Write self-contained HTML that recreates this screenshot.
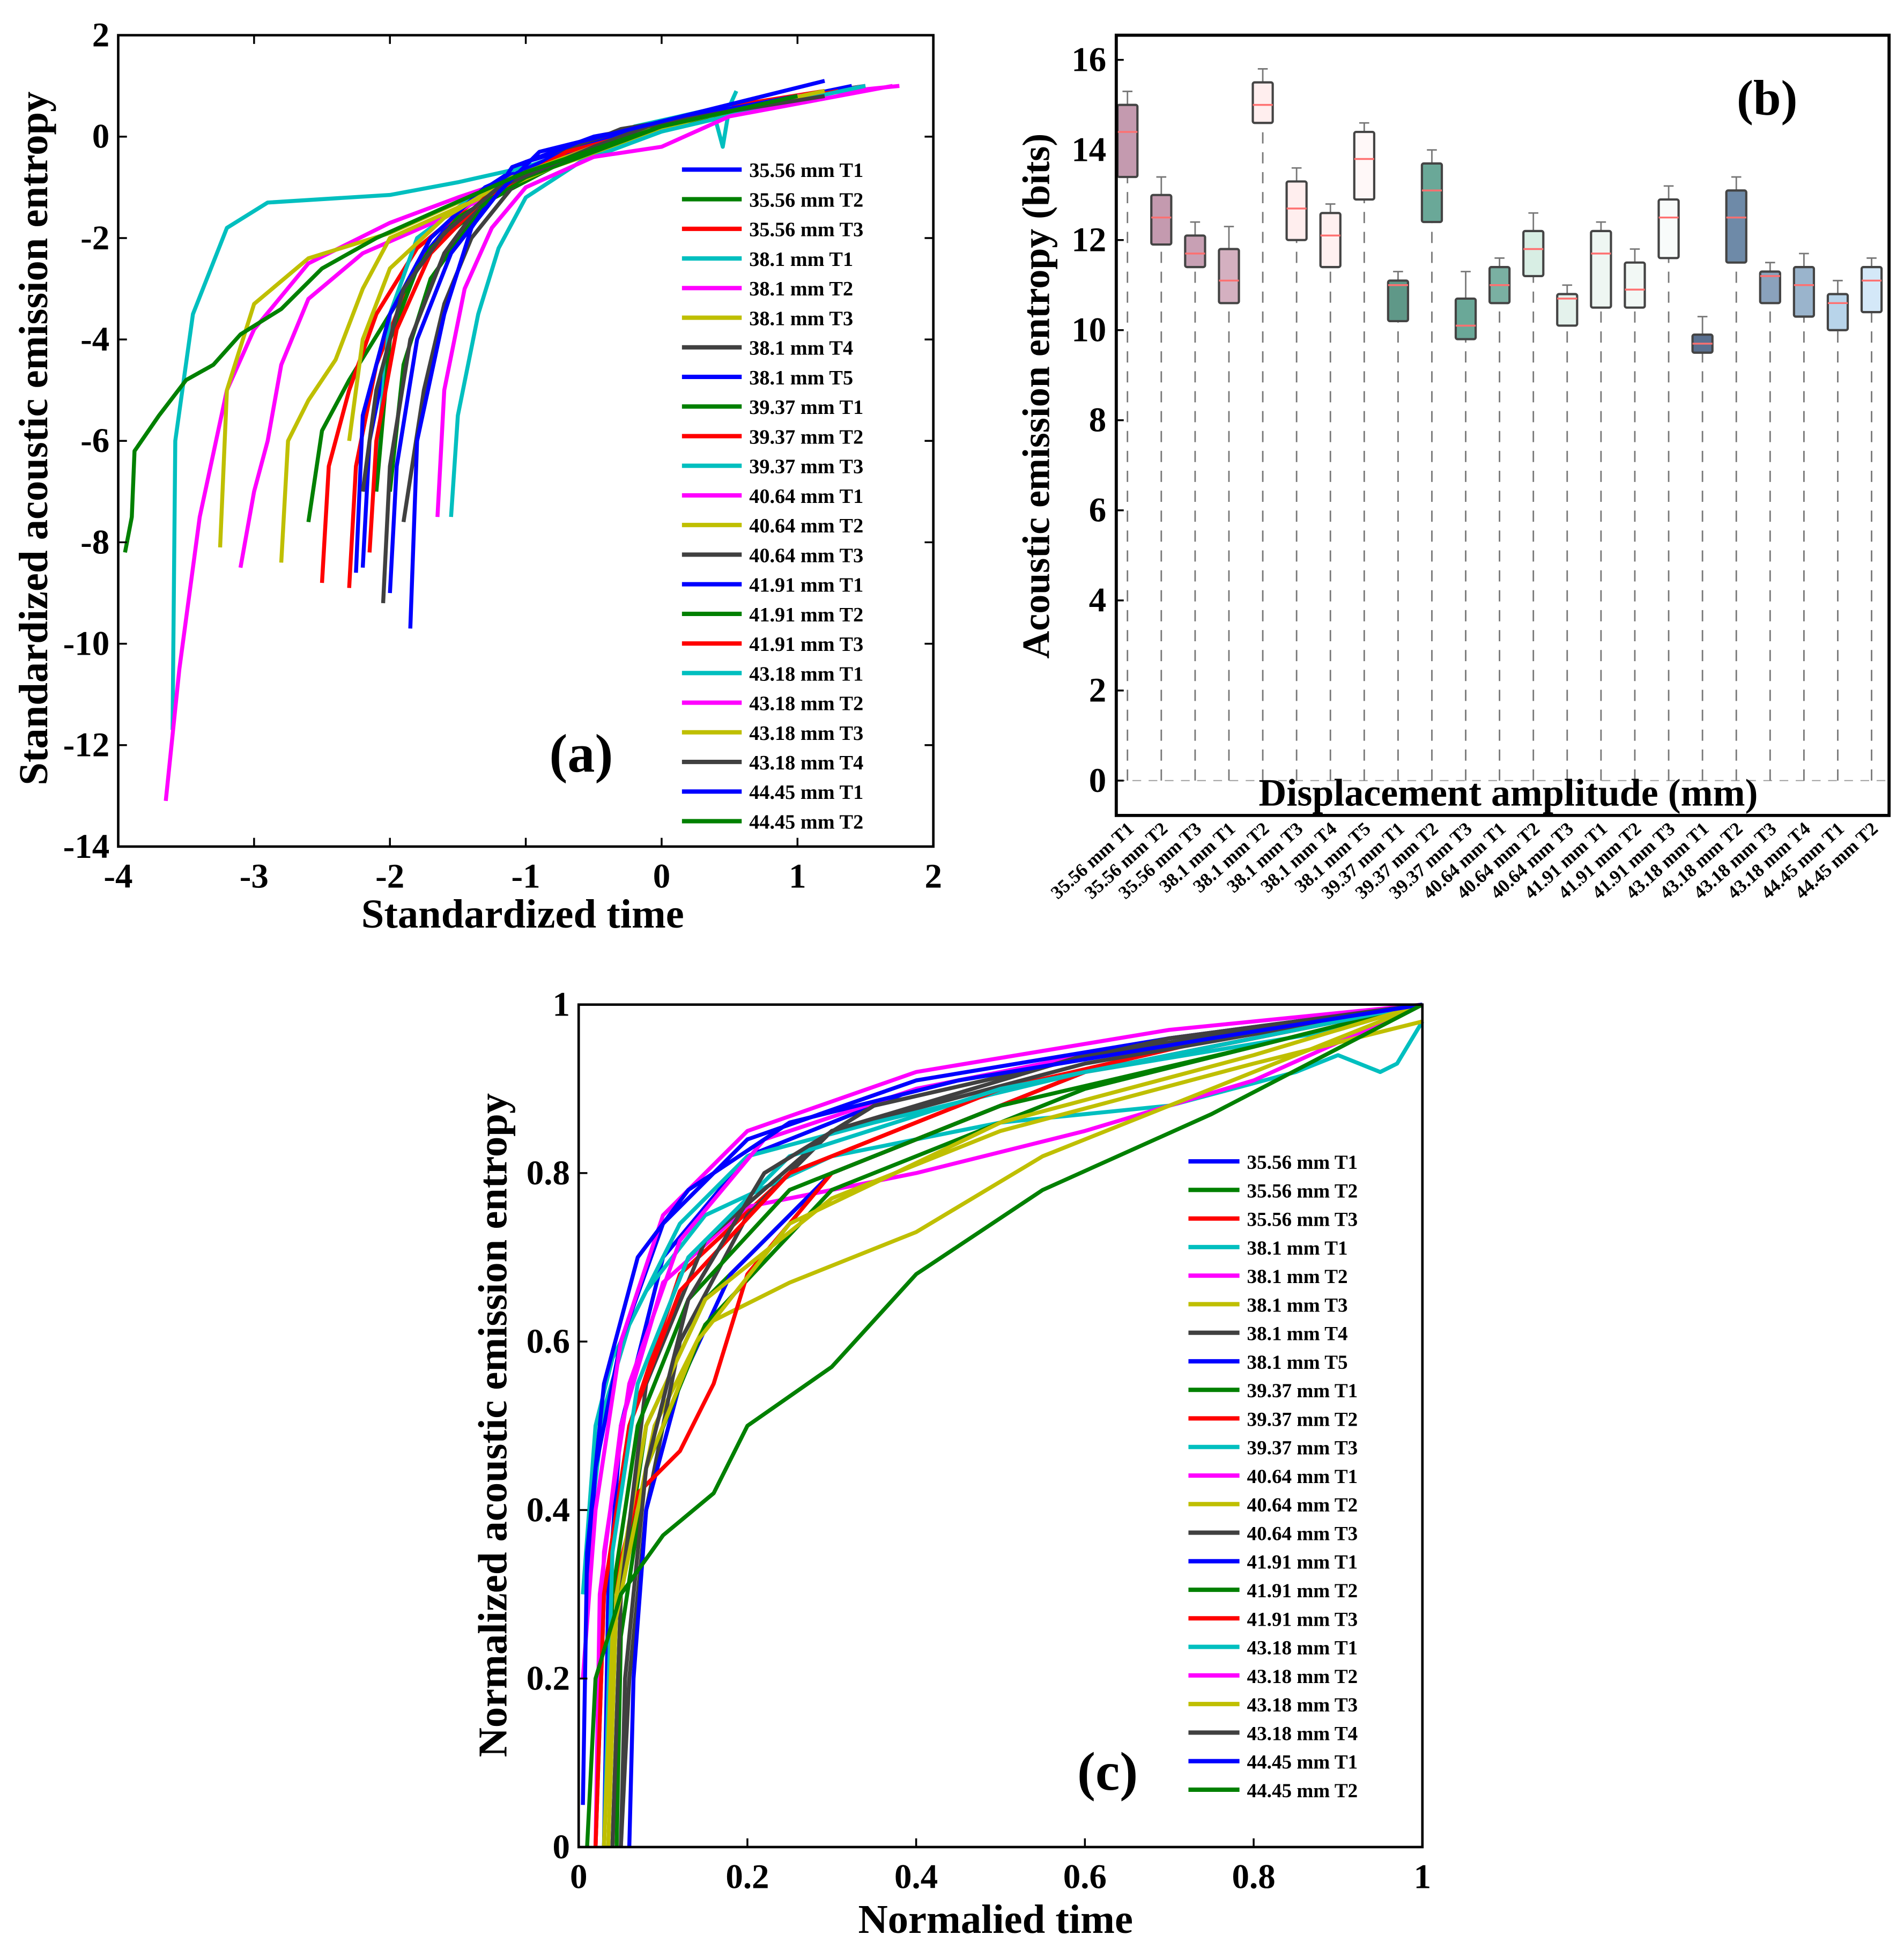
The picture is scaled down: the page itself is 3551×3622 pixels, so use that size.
<!DOCTYPE html>
<html><head><meta charset="utf-8"><style>html,body{margin:0;padding:0;background:#fff}svg{display:block}text{font-family:"Liberation Serif",serif;font-weight:bold;fill:#000}</style></head>
<body>
<svg id="fig" width="3551" height="3622" viewBox="0 0 1530 1560" xmlns="http://www.w3.org/2000/svg">
<rect width="1530" height="1560" fill="#fff"/>
<g id="pa"></g>
<g id="pb"></g>
<g id="pc"></g>
</svg>
<script>
const legendLabels=["35.56 mm T1","35.56 mm T2","35.56 mm T3","38.1 mm T1","38.1 mm T2","38.1 mm T3","38.1 mm T4","38.1 mm T5","39.37 mm T1","39.37 mm T2","39.37 mm T3","40.64 mm T1","40.64 mm T2","40.64 mm T3","41.91 mm T1","41.91 mm T2","41.91 mm T3","43.18 mm T1","43.18 mm T2","43.18 mm T3","43.18 mm T4","44.45 mm T1","44.45 mm T2"];
const seriesColors=["#0000ff","#008000","#ff0000","#00bfbf","#ff00ff","#bfbf00","#404040","#0000ff","#008000","#ff0000","#00bfbf","#ff00ff","#bfbf00","#404040","#0000ff","#008000","#ff0000","#00bfbf","#ff00ff","#bfbf00","#404040","#0000ff","#008000"];
const aTicksX=[-4,-3,-2,-1,0,1,2];
const aTicksY=[2,0,-2,-4,-6,-8,-10,-12,-14];
const aSeries=[
[[-2.2,-8.5],[-2.15,-6],[-2.0,-4],[-1.8,-2.5],[-1.4,-1.2],[-1,-0.5],[0,0.3],[1,0.8],[1.5,1.0]],
[[-2.0,-7],[-1.9,-4.5],[-1.7,-2.8],[-1.3,-1.3],[-0.8,-0.6],[0,0.2],[1,0.8],[1.5,1.0]],
[[-2.3,-8.9],[-2.25,-6.5],[-2.1,-4.5],[-1.8,-2.5],[-1.3,-1.2],[-0.5,-0.2],[0.5,0.5],[1.3,0.9]],
[[-3.6,-11.7],[-3.58,-6],[-3.45,-3.5],[-3.2,-1.8],[-2.9,-1.3],[-2,-1.15],[-1.5,-0.9],[-1,-0.6],[0,0.3],[0.5,0.5]],
[[-3.65,-13.1],[-3.55,-10.5],[-3.4,-7.5],[-3.2,-5],[-3.0,-3.8],[-2.6,-2.5],[-2,-1.7],[-1.5,-1.2],[-0.5,-0.3],[0.5,0.5],[1.5,1.0]],
[[-3.25,-8.1],[-3.2,-5],[-3.0,-3.3],[-2.6,-2.4],[-2,-1.9],[-1.5,-1.3],[-1,-0.7],[0,0.2],[0.8,0.6]],
[[-1.9,-7.6],[-1.75,-5],[-1.6,-3.3],[-1.4,-2],[-1.1,-1],[-0.7,-0.3],[-0.3,0.1],[0.3,0.4],[1.0,0.7]],
[[-1.85,-9.7],[-1.8,-6],[-1.6,-3.5],[-1.4,-1.8],[-1.1,-0.6],[-0.5,0],[0.5,0.5],[1.4,1.0]],
[[-2.6,-7.6],[-2.5,-5.8],[-2.3,-4.8],[-2.0,-3.5],[-1.7,-2.2],[-1.2,-1.1],[-0.5,-0.2],[0.5,0.5],[1.2,0.9]],
[[-2.5,-8.8],[-2.45,-6.5],[-2.3,-5],[-2.1,-3.5],[-1.8,-2.2],[-1.3,-1.1],[-0.5,-0.1],[0.5,0.6],[1.2,0.9]],
[[-2.1,-6.5],[-2.0,-3.5],[-1.8,-2],[-1.4,-1.2],[-0.8,-0.6],[-0.2,0.2],[0.3,0.5],[0.4,0.3],[0.45,-0.2],[0.5,0.6],[0.55,0.9]],
[[-3.1,-8.5],[-3.0,-7],[-2.9,-6],[-2.8,-4.5],[-2.6,-3.2],[-2.2,-2.3],[-1.6,-1.6],[-1,-0.8],[0,0.2],[1,0.8],[1.75,1.0]],
[[-2.8,-8.4],[-2.75,-6],[-2.6,-5.2],[-2.4,-4.4],[-2.2,-3],[-2.0,-2],[-1.5,-1.4],[-0.8,-0.6],[0.3,0.4],[1.0,0.8]],
[[-2.05,-9.2],[-2.0,-6.5],[-1.85,-4],[-1.6,-2.3],[-1.3,-1.2],[-0.8,-0.4],[-0.3,0.15],[0.5,0.5],[1.2,0.9]],
[[-2.25,-8.6],[-2.2,-5.5],[-2.0,-3.5],[-1.7,-2.0],[-1.3,-1.0],[-0.8,-0.4],[0,0.3],[1.0,0.8]],
[[-2.1,-7],[-2.0,-4],[-1.8,-2.6],[-1.5,-1.6],[-1,-0.8],[0,0.2],[1.2,0.9]],
[[-2.15,-8.2],[-2.1,-6],[-1.95,-3.8],[-1.7,-2.3],[-1.3,-1.2],[-0.7,-0.3],[0.3,0.4],[1.3,0.9]],
[[-1.55,-7.5],[-1.5,-5.5],[-1.35,-3.5],[-1.2,-2.2],[-1.0,-1.2],[-0.6,-0.5],[0,0.1],[0.8,0.6],[1.5,1.0]],
[[-1.65,-7.5],[-1.6,-5],[-1.45,-3],[-1.25,-1.8],[-1.0,-1.0],[-0.5,-0.4],[0,-0.2],[0.5,0.4],[1.7,1.0]],
[[-2.3,-6],[-2.2,-4],[-2.0,-2.6],[-1.6,-1.6],[-1.1,-0.8],[-0.3,0],[0.5,0.5],[1.2,0.9]],
[[-2.2,-7],[-2.1,-5],[-1.9,-3],[-1.6,-1.9],[-1.2,-1.0],[-0.5,-0.2],[-0.1,0.2],[0.5,0.5],[1.2,0.8]],
[[-2.0,-9],[-1.95,-6.5],[-1.8,-4],[-1.55,-2.3],[-1.2,-1.1],[-0.9,-0.3],[0,0.3],[1.2,1.1]],
[[-3.95,-8.2],[-3.9,-7.5],[-3.88,-6.2],[-3.7,-5.5],[-3.5,-4.8],[-3.3,-4.5],[-3.1,-3.9],[-2.8,-3.4],[-2.5,-2.6],[-2.1,-2.0],[-1.6,-1.4],[-1,-0.7],[0,0.2],[1,0.8]]
];
const bTicksY=[0,2,4,6,8,10,12,14,16];
const bQ1=[13.4,11.9,11.4,10.6,14.6,12.0,11.4,12.9,10.2,12.4,9.8,10.6,11.2,10.1,10.5,10.5,11.6,9.5,11.5,10.6,10.3,10.0,10.4];
const bMed=[14.4,12.5,11.7,11.1,15.0,12.7,12.1,13.8,11.0,13.1,10.1,11.0,11.8,10.7,11.7,10.9,12.5,9.7,12.5,11.2,11.0,10.6,11.1];
const bQ3=[15.0,13.0,12.1,11.8,15.5,13.3,12.6,14.4,11.1,13.7,10.7,11.4,12.2,10.8,12.2,11.5,12.9,9.9,13.1,11.3,11.4,10.8,11.4];
const bHi=[15.3,13.4,12.4,12.3,15.8,13.6,12.8,14.6,11.3,14.0,11.3,11.6,12.6,11.0,12.4,11.8,13.2,10.3,13.4,11.5,11.7,11.1,11.6];
const bFill=["#c49aaf","#c49aaf","#c8a0b4","#d4b0c0","#ffeeee","#ffeeee","#fff0f0","#fff8f8","#5f9888","#6aa898","#6aa898","#7ab0a2","#d8eee4","#e4f2ec","#eef6f2","#f2f8f5","#f8fbfa","#5a7090","#6e8aa8","#8aa2bc","#9ab4cc","#b8d4ea","#d4e8f8"];
const cTicks=[0,0.2,0.4,0.6,0.8,1];
const cSeries=[
[[0.03,0],[0.035,0.3],[0.05,0.5],[0.1,0.7],[0.2,0.82],[0.4,0.9],[0.7,0.96],[1,1]],
[[0.04,0],[0.05,0.3],[0.08,0.5],[0.15,0.65],[0.3,0.8],[0.6,0.92],[1,1]],
[[0.02,0],[0.03,0.3],[0.06,0.5],[0.12,0.68],[0.25,0.8],[0.5,0.9],[0.8,0.97],[1,1]],
[[0.005,0.3],[0.02,0.5],[0.04,0.58],[0.08,0.66],[0.15,0.75],[0.3,0.82],[0.5,0.86],[0.7,0.88],[0.85,0.92],[0.9,0.94],[0.95,0.92],[0.97,0.93],[1,0.98]],
[[0.02,0],[0.025,0.3],[0.05,0.5],[0.1,0.67],[0.2,0.76],[0.4,0.8],[0.6,0.85],[0.8,0.91],[1,1]],
[[0.04,0],[0.05,0.3],[0.09,0.5],[0.15,0.62],[0.25,0.67],[0.4,0.73],[0.55,0.82],[0.75,0.9],[1,1]],
[[0.05,0],[0.06,0.2],[0.08,0.4],[0.12,0.6],[0.2,0.75],[0.3,0.85],[0.6,0.93],[1,1]],
[[0.06,0],[0.065,0.2],[0.08,0.4],[0.12,0.55],[0.18,0.68],[0.3,0.8],[0.6,0.92],[1,1]],
[[0.045,0],[0.05,0.25],[0.08,0.45],[0.15,0.62],[0.3,0.78],[0.6,0.9],[1,1]],
[[0.03,0],[0.04,0.3],[0.07,0.42],[0.12,0.47],[0.16,0.55],[0.2,0.68],[0.3,0.8],[0.6,0.92],[1,1]],
[[0.01,0.35],[0.03,0.52],[0.06,0.62],[0.12,0.74],[0.2,0.82],[0.35,0.86],[0.6,0.92],[0.9,0.97],[1,1]],
[[0.02,0],[0.03,0.35],[0.06,0.55],[0.12,0.72],[0.22,0.84],[0.4,0.9],[0.7,0.96],[1,1]],
[[0.035,0],[0.045,0.3],[0.08,0.5],[0.15,0.65],[0.3,0.77],[0.5,0.85],[0.8,0.93],[1,0.98]],
[[0.04,0],[0.05,0.3],[0.08,0.55],[0.15,0.72],[0.3,0.85],[0.6,0.94],[1,1]],
[[0.01,0.3],[0.02,0.45],[0.05,0.6],[0.1,0.74],[0.2,0.84],[0.4,0.91],[0.7,0.96],[1,1]],
[[0.03,0],[0.04,0.3],[0.07,0.5],[0.13,0.65],[0.25,0.78],[0.5,0.88],[0.8,0.95],[1,1]],
[[0.02,0],[0.03,0.3],[0.06,0.5],[0.12,0.66],[0.25,0.8],[0.5,0.9],[0.8,0.96],[1,1]],
[[0.03,0],[0.04,0.35],[0.07,0.55],[0.13,0.7],[0.25,0.82],[0.5,0.9],[0.8,0.96],[1,1]],
[[0.005,0.2],[0.02,0.4],[0.05,0.6],[0.1,0.75],[0.2,0.85],[0.4,0.92],[0.7,0.97],[1,1]],
[[0.03,0],[0.04,0.25],[0.08,0.45],[0.14,0.6],[0.25,0.74],[0.5,0.86],[0.8,0.94],[1,1]],
[[0.05,0],[0.055,0.2],[0.08,0.45],[0.13,0.65],[0.22,0.8],[0.35,0.88],[0.7,0.96],[1,1]],
[[0.005,0.05],[0.01,0.35],[0.03,0.55],[0.07,0.7],[0.13,0.78],[0.25,0.86],[0.45,0.91],[0.75,0.96],[1,1]],
[[0.01,0],[0.02,0.2],[0.05,0.3],[0.1,0.37],[0.16,0.42],[0.2,0.5],[0.3,0.57],[0.4,0.68],[0.55,0.78],[0.75,0.87],[1,1]]
];
const NS="http://www.w3.org/2000/svg";
function mk(parent,tag,attrs,txt){const e=document.createElementNS(NS,tag);for(const k in attrs)e.setAttribute(k,attrs[k]);if(txt!==undefined)e.textContent=txt;parent.appendChild(e);return e;}
// Panel A
const pa=document.getElementById('pa');
const aL=95,aR=750,aT=28,aB=680;
const axA=v=>aL+(v+4)/6*(aR-aL), ayA=v=>aT+(2-v)/16*(aB-aT);
aSeries.forEach((s,i)=>{const p=mk(pa,'polyline',{points:s.map(d=>axA(d[0])+','+ayA(d[1])).join(' '),fill:'none',stroke:seriesColors[i],'stroke-width':3.2,'stroke-linejoin':'round'});

});
let fr=mk(pa,'rect',{x:aL,y:aT,width:aR-aL,height:aB-aT,fill:'none',stroke:'#000','stroke-width':2});


aTicksX.forEach(v=>{mk(pa,'line',{x1:axA(v),x2:axA(v),y1:aB,y2:aB-7,stroke:'#000','stroke-width':1.5});mk(pa,'line',{x1:axA(v),x2:axA(v),y1:aT,y2:aT+7,stroke:'#000','stroke-width':1.5});
const t=mk(pa,'text',{x:axA(v),y:aB+33,'text-anchor':'middle','font-size':28},String(v));

});
aTicksY.forEach(v=>{mk(pa,'line',{x1:aL,x2:aL+7,y1:ayA(v),y2:ayA(v),stroke:'#000','stroke-width':1.5});mk(pa,'line',{x1:aR,x2:aR-7,y1:ayA(v),y2:ayA(v),stroke:'#000','stroke-width':1.5});
const t=mk(pa,'text',{x:aL-7,y:ayA(v)+9,'text-anchor':'end','font-size':28},String(v));

});
let t1=mk(pa,'text',{x:420,y:745,'text-anchor':'middle','font-size':33},'Standardized time');


let t2=mk(pa,'text',{x:0,y:0,'text-anchor':'middle','font-size':33,transform:'translate(38,352) rotate(-90)'},'Standardized acoustic emission entropy');


let t3=mk(pa,'text',{x:467,y:620,'text-anchor':'middle','font-size':44},'(a)');


legendLabels.forEach((l,i)=>{const y=136+i*23.8;
const g=mk(pa,'g',{});


mk(g,'line',{x1:548,x2:596,y1:y,y2:y,stroke:seriesColors[i],'stroke-width':3.5});
mk(g,'text',{x:602,y:y+6,'font-size':16.5},l);});
// Panel B
const pb=document.getElementById('pb');
const bL=897,bR=1518,bT=28,bB=655;
const byB=v=>627-v*36.2, bxB=i=>906+i*27.18;
mk(pb,'line',{x1:bL,x2:bR,y1:byB(0),y2:byB(0),stroke:'#aaa','stroke-width':1,'stroke-dasharray':'7,6'});
bTicksY.forEach(v=>{
mk(pb,'line',{x1:bL,x2:bL+6,y1:byB(v),y2:byB(v),stroke:'#000','stroke-width':1.5});
const t=mk(pb,'text',{x:bL-8,y:byB(v)+9,'text-anchor':'end','font-size':28},String(v));

});
legendLabels.forEach((l,i)=>{const x=bxB(i);
const g=mk(pb,'g',{});


mk(g,'line',{x1:x,x2:x,y1:byB(0),y2:byB(bQ1[i]),stroke:'#777','stroke-width':1.2,'stroke-dasharray':'9,7'});
mk(g,'line',{x1:x,x2:x,y1:byB(bQ3[i]),y2:byB(bHi[i]),stroke:'#777','stroke-width':1.2});
mk(g,'line',{x1:x-4,x2:x+4,y1:byB(bHi[i]),y2:byB(bHi[i]),stroke:'#777','stroke-width':1.2});
mk(g,'rect',{x:x-8,y:byB(bQ3[i]),width:16,height:byB(bQ1[i])-byB(bQ3[i]),fill:bFill[i],stroke:'#444','stroke-width':1.8,rx:1.5});
mk(g,'line',{x1:x-8,x2:x+8,y1:byB(bMed[i]),y2:byB(bMed[i]),stroke:'#ff7070','stroke-width':1.5});
const t=mk(pb,'text',{x:0,y:0,'text-anchor':'end','font-size':15,transform:`translate(${x+6},${bB+12}) rotate(-42)`},l);

});
fr=mk(pb,'rect',{x:bL,y:bT,width:bR-bL,height:bB-bT,fill:'none',stroke:'#000','stroke-width':2.5});


let tb=mk(pb,'text',{x:1212,y:647,'text-anchor':'middle','font-size':31},'Displacement amplitude (mm)');


tb=mk(pb,'text',{x:0,y:0,'text-anchor':'middle','font-size':31,transform:'translate(843,318) rotate(-90)'},'Acoustic emission entropy (bits)');


tb=mk(pb,'text',{x:1420,y:92,'text-anchor':'middle','font-size':40},'(b)');


// Panel C
const pc=document.getElementById('pc');
const cL=465,cR=1143,cT=807,cB=1484;
const cx=v=>cL+v*(cR-cL), cy=v=>cB-v*(cB-cT);
cSeries.forEach((s,i)=>{const p=mk(pc,'polyline',{points:s.map(d=>cx(d[0])+','+cy(d[1])).join(' '),fill:'none',stroke:seriesColors[i],'stroke-width':3.2,'stroke-linejoin':'round'});

});
fr=mk(pc,'rect',{x:cL,y:cT,width:cR-cL,height:cB-cT,fill:'none',stroke:'#000','stroke-width':2});


cTicks.forEach(v=>{mk(pc,'line',{x1:cx(v),x2:cx(v),y1:cB,y2:cB-7,stroke:'#000','stroke-width':1.5});mk(pc,'line',{x1:cL,x2:cL+7,y1:cy(v),y2:cy(v),stroke:'#000','stroke-width':1.5});
let t=mk(pc,'text',{x:cx(v),y:cB+33,'text-anchor':'middle','font-size':28},String(v));


t=mk(pc,'text',{x:cL-7,y:cy(v)+9,'text-anchor':'end','font-size':28},String(v));

});
let tc=mk(pc,'text',{x:800,y:1553,'text-anchor':'middle','font-size':33},'Normalied time');


tc=mk(pc,'text',{x:0,y:0,'text-anchor':'middle','font-size':33,transform:'translate(407,1145) rotate(-90)'},'Normalized acoustic emission entropy');


tc=mk(pc,'text',{x:890,y:1438,'text-anchor':'middle','font-size':44},'(c)');


legendLabels.forEach((l,i)=>{const y=933+i*22.95;
const g=mk(pc,'g',{});


mk(g,'line',{x1:955,x2:996,y1:y,y2:y,stroke:seriesColors[i],'stroke-width':3.5});
mk(g,'text',{x:1002,y:y+6,'font-size':16},l);});
</script>
</body></html>
